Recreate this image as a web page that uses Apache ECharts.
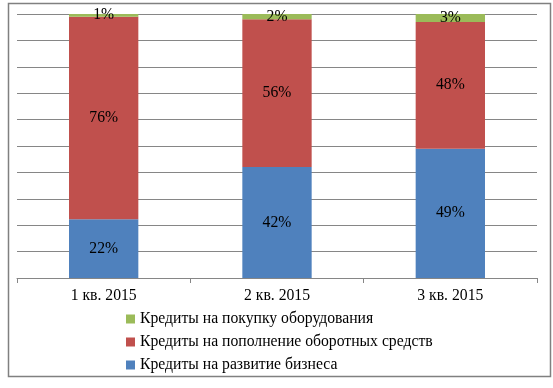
<!DOCTYPE html>
<html><head><meta charset="utf-8">
<script src="https://cdn.jsdelivr.net/npm/echarts@6/dist/echarts.min.js"></script>
<style>html,body{margin:0;padding:0;background:#fff}#c{width:553px;height:388px}</style>
</head><body><div id="c"></div>
<script>
const categories = ['1 кв. 2015', '2 кв. 2015', '3 кв. 2015'];
const seriesNames = ['Кредиты на развитие бизнеса', 'Кредиты на пополнение оборотных средств', 'Кредиты на покупку оборудования'];
const business = [22, 42, 49];
const working = [76, 56, 48];
const equipment = [1, 2, 3];
const colors = ['#4F81BD', '#C0504D', '#9BBB59'];

const raw = [business, working, equipment];
const totals = categories.map((_, i) => raw.reduce((s, a) => s + a[i], 0));
const font = '"Liberation Serif", "Times New Roman", serif';

const chart = echarts.init(document.getElementById('c'), null, {renderer: 'canvas'});
chart.setOption({
  animation: false,
  backgroundColor: '#fff',
  graphic: [{
    type: 'rect', left: 6, top: 1, shape: {width: 542, height: 373},
    style: {fill: 'none', stroke: '#808080', lineWidth: 1.5}, silent: true
  }],
  grid: {left: 17, right: 16, top: 14, bottom: 110, containLabel: false},
  legend: {
    data: [seriesNames[2], seriesNames[1], seriesNames[0]],
    orient: 'vertical', left: 121, top: 306,
    itemWidth: 9, itemHeight: 9, itemGap: 7, icon: 'rect',
    textStyle: {fontFamily: font, fontSize: 15.7, color: '#000'}
  },
  xAxis: {
    type: 'category', data: categories,
    axisLine: {lineStyle: {color: '#868686', width: 1}},
    axisTick: {show: true, length: 5, lineStyle: {color: '#868686'}},
    axisLabel: {fontFamily: font, fontSize: 15.7, color: '#000', margin: 10}
  },
  yAxis: {
    type: 'value', min: 0, max: 100, interval: 10,
    axisLine: {show: false}, axisTick: {show: false}, axisLabel: {show: false},
    splitLine: {lineStyle: {color: '#868686', width: 1}}
  },
  series: raw.map((arr, k) => ({
    name: seriesNames[k], type: 'bar', stack: 'total', barWidth: '40%',
    itemStyle: {color: colors[k]},
    data: arr.map((v, i) => ({value: v / totals[i] * 100, raw: v})),
    label: {
      show: true, position: 'inside', fontFamily: font, fontSize: 15.7, color: '#000',
      formatter: p => p.data.raw + '%'
    }
  }))
});
</script></body></html>
